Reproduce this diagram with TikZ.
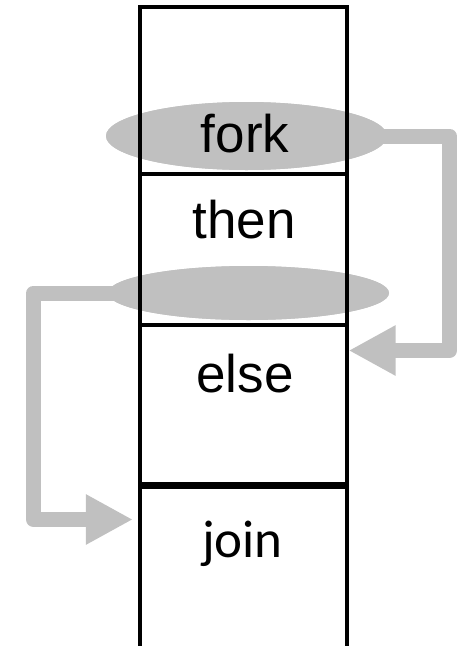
\documentclass[tikz,border=0pt]{standalone}
\usepackage{fontspec}
\setmainfont{Liberation Sans}
\newfontfamily\joinfont{Carlito}
\usetikzlibrary{arrows.meta,shapes.geometric}

\definecolor{flowgray}{HTML}{C0C0C0}

\tikzset{
  section/.style={draw=black, line width=3.2pt, rectangle, inner sep=0pt,
                  minimum width=207pt},
  blob/.style={fill=flowgray, draw=none, ellipse, inner sep=0pt,
               minimum width=281pt},
  flow/.style={draw=flowgray, line width=15pt, line join=round,
               -{Triangle[length=47pt,width=47pt]}},
  label/.style={anchor=base, inner sep=0pt, font=\fontsize{53}{60}\selectfont}
}

\begin{document}
\begin{tikzpicture}[x=1pt,y=-1pt]
\useasboundingbox (0,0) rectangle (459,646);

% gray markers behind the code column
\node[blob, minimum height=68pt] (forkblob) at (246.5,136) {};
\node[blob, minimum height=54pt] (thenblob) at (248.5,293) {};

% invisible placeholders for the column sections (used for anchors)
\path (243.5,90.5)  node[section, draw=none, minimum height=167pt] (forkbox) {};
\path (243.5,249.5) node[section, draw=none, minimum height=151pt] (thenbox) {};
\path (243.5,404.5) node[section, draw=none, minimum height=159pt] (elsebox) {};
\path (243.5,603.75) node[section, draw=none, minimum height=232.5pt] (joinbox) {};

% branch arrows
\coordinate (forkturn) at (449.5,136);
\coordinate (elseturn) at (449.5,350.5);
\draw[flow] (forkblob.center) -- (forkturn) -- (elseturn) -- (elseturn -| elsebox.east);

\coordinate (thenturn) at (33.5,293);
\coordinate (jointurn) at (33.5,519.5);
\draw[flow, shorten >=5.5pt] (thenblob.center) -- (thenturn) -- (jointurn) -- (jointurn -| joinbox.west);

% redraw markers over the arrow stems
\fill[flowgray] (forkblob.center) ellipse (140.5pt and 34pt);
\fill[flowgray] (thenblob.center) ellipse (140.5pt and 27pt);

% column sections
\node[section, minimum height=167pt] at (forkbox) {};
\node[section, minimum height=151pt] at (thenbox) {};
\node[section, minimum height=159pt] at (elsebox) {};
\node[section, minimum height=232.5pt] at (joinbox) {};

% section labels
\node[label] (forktxt) at (245,152) {fork};
\node[label] (thentxt) at (244,238) {then};
\node[label] (elsetxt) at (245,392) {else};
\node[label, font=\joinfont\fontsize{53}{60}\selectfont] (jointxt) at (242.5,557) {join};
\end{tikzpicture}
\end{document}
